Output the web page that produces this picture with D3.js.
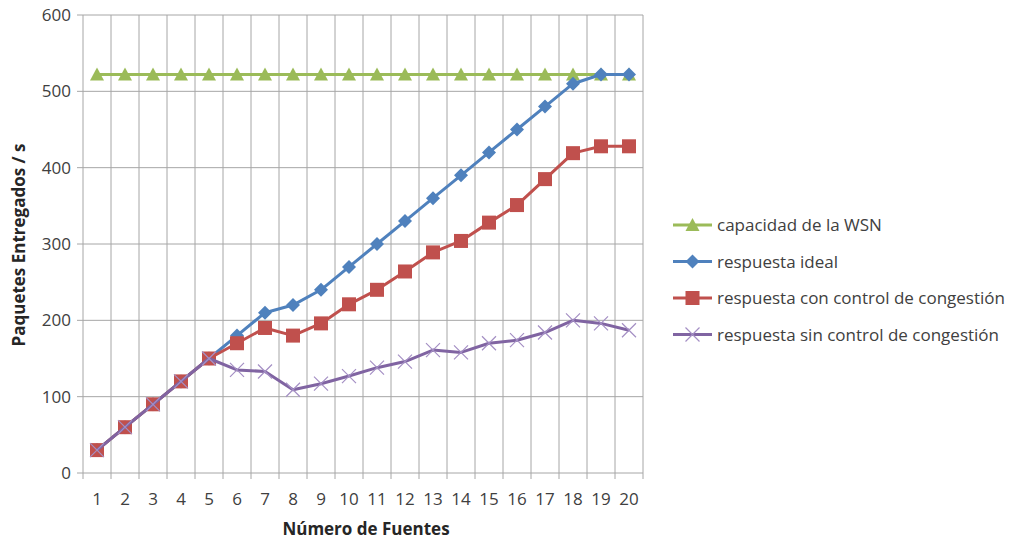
<!DOCTYPE html>
<html>
<head>
<meta charset="utf-8">
<script src="https://cdn.jsdelivr.net/npm/d3@7"></script>
<style>
  body { margin: 0; background: #fff; }
  text { font-family: "Open Sans", sans-serif; fill: #404040; }
</style>
</head>
<body>
<div id="chart"></div>
<script>
const fuentes = d3.range(1, 21);
const capacidad = [522,522,522,522,522,522,522,522,522,522,522,522,522,522,522,522,522,522,522,522];
const ideal = [30,60,90,120,150,180,210,220,240,270,300,330,360,390,420,450,480,510,522,522];
const conControl = [30,60,90,120,150,170,190,180,196,221,240,264,289,304,328,351,385,419,428,428];
const sinControl = [30,60,90,120,150,135,133,109,117,127,138,146,161,158,170,174,184,200,196,187];
const yTicks = [0,100,200,300,400,500,600];

const series = [
    { name: "capacidad de la WSN", values: capacidad, color: "#9BBB59", marker: "triangle" },
    { name: "respuesta ideal", values: ideal, color: "#4F81BD", marker: "diamond" },
    { name: "respuesta con control de congestión", values: conControl, color: "#C0504D", marker: "square" },
    { name: "respuesta sin control de congestión", values: sinControl, color: "#8064A2", marker: "cross" }
];

const width = 1012, height = 539;
const plotLeft = 83, plotRight = 643, plotTop = 15, plotBottom = 473;

const svg = d3.select("#chart").append("svg")
    .attr("width", width)
    .attr("height", height);

const x = d3.scaleBand().domain(fuentes).range([plotLeft, plotRight]);
const y = d3.scaleLinear().domain([0, 600]).range([plotBottom, plotTop]);

// grid
svg.append("g").selectAll("line")
    .data(yTicks).enter().append("line")
    .attr("x1", plotLeft - 6).attr("x2", plotRight)
    .attr("y1", d => y(d)).attr("y2", d => y(d))
    .attr("stroke", "#A6A6A6").attr("stroke-width", 1);

const bounds = fuentes.map(d => x(d)).concat([plotRight]);
svg.append("g").selectAll("line")
    .data(bounds).enter().append("line")
    .attr("x1", d => d).attr("x2", d => d)
    .attr("y1", plotTop).attr("y2", plotBottom + 6)
    .attr("stroke", "#A6A6A6").attr("stroke-width", 1);

// tick labels
svg.append("g").selectAll("text")
    .data(yTicks).enter().append("text")
    .attr("x", plotLeft - 12).attr("y", d => y(d) + 6)
    .attr("text-anchor", "end")
    .style("font-size", "17px")
    .text(d => d);

svg.append("g").selectAll("text")
    .data(fuentes).enter().append("text")
    .attr("x", d => x(d) + x.bandwidth() / 2).attr("y", 505)
    .attr("text-anchor", "middle")
    .style("font-size", "17px")
    .text(d => d);

// axis titles
svg.append("text")
    .attr("x", 366).attr("y", 535)
    .attr("text-anchor", "middle")
    .style("font-size", "17px").style("font-weight", "bold").style("fill", "#262626")
    .text("Número de Fuentes");

svg.append("text")
    .attr("transform", `translate(25, 245) rotate(-90)`)
    .attr("text-anchor", "middle")
    .style("font-size", "17px").style("font-weight", "bold").style("fill", "#262626")
    .text("Paquetes Entregados / s");

// markers
const drawMarker = (sel, type, color) => {
    if (type === "triangle") {
        sel.append("path").attr("d", "M0,-7L7,6L-7,6Z").attr("fill", color);
    } else if (type === "diamond") {
        sel.append("path").attr("d", "M0,-7L7,0L0,7L-7,0Z").attr("fill", color);
    } else if (type === "square") {
        sel.append("rect").attr("x", -7).attr("y", -7).attr("width", 14).attr("height", 14).attr("fill", color);
    } else {
        sel.append("path").attr("d", "M-7,-7L7,7M-7,7L7,-7").attr("stroke", "#A48FC4").attr("stroke-width", 1.2).attr("fill", "none");
    }
};

const line = d3.line()
    .x((d, i) => x(fuentes[i]) + x.bandwidth() / 2)
    .y(d => y(d));

series.forEach(s => {
    const g = svg.append("g");
    g.append("path")
        .attr("d", line(s.values))
        .attr("fill", "none")
        .attr("stroke", s.color)
        .attr("stroke-width", 3)
        .attr("stroke-linejoin", "round");
    s.values.forEach((v, i) => {
        const m = g.append("g")
            .attr("transform", `translate(${x(fuentes[i]) + x.bandwidth() / 2},${y(v)})`);
        drawMarker(m, s.marker, s.color);
    });
});

// legend
const legend = svg.append("g");
series.forEach((s, i) => {
    const ly = 225 + i * 36.5;
    const g = legend.append("g").attr("transform", `translate(0,${ly})`);
    g.append("line").attr("x1", 673).attr("x2", 712).attr("y1", 0).attr("y2", 0)
        .attr("stroke", s.color).attr("stroke-width", 3);
    const m = g.append("g").attr("transform", "translate(692.5,0)");
    drawMarker(m, s.marker, s.color);
    g.append("text").attr("x", 717).attr("y", 6)
        .style("font-size", "17px")
        .text(s.name);
});
</script>
</body>
</html>
